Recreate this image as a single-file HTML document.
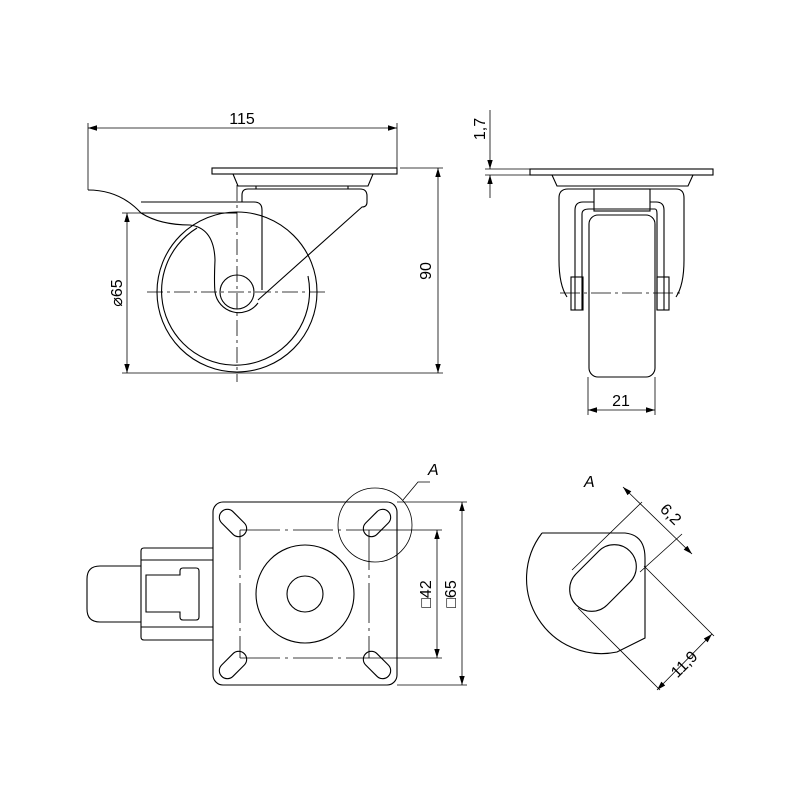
<!DOCTYPE html>
<html><head><style>body{margin:0;background:#fff}svg{display:block}text{font-family:"Liberation Sans",sans-serif;font-size:16px;fill:#000}</style></head><body>
<svg width="800" height="800" viewBox="0 0 800 800" fill="none" stroke="#000" stroke-width="1.1">
<defs><marker id="a" viewBox="0 0 10 10" refX="10" refY="5" markerWidth="9" markerHeight="9" orient="auto-start-reverse" markerUnits="userSpaceOnUse"><path d="M0,2L10,5L0,8z" fill="#000" stroke="none"/></marker></defs>
<g stroke-width="0.8">
<!-- side view dims -->
<line x1="88" y1="128" x2="397" y2="128" marker-start="url(#a)" marker-end="url(#a)"/>
<line x1="88" y1="123" x2="88" y2="190"/><line x1="397" y1="123" x2="397" y2="168"/>
<line x1="127" y1="213" x2="127" y2="373" marker-start="url(#a)" marker-end="url(#a)"/>
<line x1="122" y1="213" x2="237" y2="213"/><line x1="122" y1="373" x2="443" y2="373"/>
<line x1="438" y1="168" x2="438" y2="373" marker-start="url(#a)" marker-end="url(#a)"/>
<line x1="400" y1="168" x2="443" y2="168"/>
<line x1="147" y1="292" x2="327" y2="292" stroke-dasharray="16,4,3,4"/>
<line x1="237" y1="185" x2="237" y2="382" stroke-dasharray="16,4,3,4"/>
<!-- front dims -->
<line x1="485" y1="169" x2="530" y2="169"/><line x1="485" y1="175" x2="530" y2="175"/>
<line x1="490" y1="110" x2="490" y2="169" marker-end="url(#a)"/><line x1="490" y1="175" x2="490" y2="198" marker-start="url(#a)"/>
<line x1="588" y1="377" x2="588" y2="415"/><line x1="655" y1="377" x2="655" y2="415"/>
<line x1="588" y1="410" x2="655" y2="410" marker-start="url(#a)" marker-end="url(#a)"/>
<line x1="560" y1="293" x2="680" y2="293" stroke-dasharray="20,4,3,4"/>
<!-- top view dims -->
<line x1="240" y1="530" x2="369" y2="530" stroke-dasharray="40,5,3,5"/>
<line x1="240" y1="658" x2="369" y2="658" stroke-dasharray="40,5,3,5"/>
<line x1="240" y1="530" x2="240" y2="658" stroke-dasharray="40,5,3,5"/>
<line x1="369" y1="530" x2="369" y2="658" stroke-dasharray="40,5,3,5"/>
<line x1="369" y1="530" x2="442" y2="530"/><line x1="369" y1="658" x2="442" y2="658"/>
<line x1="437" y1="530" x2="437" y2="658" marker-start="url(#a)" marker-end="url(#a)"/>
<line x1="397" y1="502" x2="467" y2="502"/><line x1="397" y1="685" x2="467" y2="685"/>
<line x1="462" y1="502" x2="462" y2="685" marker-start="url(#a)" marker-end="url(#a)"/>
<circle cx="375" cy="525" r="37"/>
<polyline points="403,500 418,482 430,482"/>
<!-- detail dims -->
<line x1="623" y1="487" x2="692" y2="554" marker-start="url(#a)" marker-end="url(#a)"/>
<line x1="572" y1="570" x2="642" y2="502"/><line x1="640" y1="572" x2="682" y2="534"/>
<line x1="657" y1="690" x2="712" y2="634" marker-start="url(#a)" marker-end="url(#a)"/>
<line x1="578" y1="608" x2="660" y2="690"/><line x1="644" y1="566" x2="714" y2="636"/>
</g>
<!-- side view -->
<rect x="212" y="168" width="185" height="6"/>
<path d="M233,174L238,186H368L373,174"/>
<line x1="256" y1="186" x2="256" y2="189"/><line x1="348" y1="186" x2="348" y2="189"/>
<path d="M242,202V195Q242,189 248,189H360Q367,189 367,196V202Q367,207 362,207L258,300"/>
<path d="M141,202H254Q262,202 262,210V290"/>
<path d="M88,190Q120,190 141,213H237"/>
<path d="M141,213Q160,225 190,225Q214,228 215,260Q214,282 215,292A24,24 0 0 0 258,303"/>
<circle cx="237" cy="292" r="80"/>
<path d="M197,228A74,74 0 1 0 308,276"/>
<circle cx="237" cy="292" r="17"/>
<!-- front view -->
<rect x="530" y="169" width="183" height="6"/>
<path d="M552,175L557,186H688L693,175"/>
<path d="M567,297Q559,285 559,260V198Q559,189 568,189H676Q684,189 684,198V260Q684,285 676,297"/>
<rect x="594" y="189" width="56" height="22"/>
<path d="M575,310V210Q575,202 583,202H594M650,202H656Q664,202 664,210V310"/>
<path d="M582,310V214Q582,209 589,209H655Q657,209 657,214V310"/>
<rect x="589" y="215" width="66" height="162" rx="9"/>
<rect x="571" y="277" width="12" height="33"/><rect x="657" y="277" width="12" height="33"/>
<!-- top view -->
<rect x="213" y="502" width="184" height="183" rx="10"/>
<g transform="translate(233,523) rotate(45)"><rect x="-16" y="-8" width="32" height="16" rx="8"/></g>
<g transform="translate(377,523) rotate(-45)"><rect x="-16" y="-8" width="32" height="16" rx="8"/></g>
<g transform="translate(233,665) rotate(-45)"><rect x="-16" y="-8" width="32" height="16" rx="8"/></g>
<g transform="translate(377,665) rotate(45)"><rect x="-16" y="-8" width="32" height="16" rx="8"/></g>
<circle cx="305" cy="594" r="49"/><circle cx="305" cy="594" r="18"/>
<path d="M213,548H144Q141,548 141,551V637Q141,640 144,640H213"/>
<line x1="141" y1="560" x2="213" y2="560"/><line x1="141" y1="627" x2="213" y2="627"/>
<path d="M180,612V617Q180,620 183,620H196Q199,620 199,617V571Q199,568 196,568H183Q180,568 180,571V575H146V612Z"/>
<path d="M141,566H100Q87,566 87,579V609Q87,622 100,622H141"/>
<!-- detail A -->
<path d="M542,533H625Q645,535 645,558V638L617,652A75,75 0 0 1 542,533"/>
<g transform="translate(603,578) rotate(-45)"><rect x="-38" y="-22" width="76" height="44" rx="22"/></g>
<!-- texts -->
<g stroke="none">
<text x="242" y="124" text-anchor="middle">115</text>
<text transform="translate(122,293) rotate(-90)" text-anchor="middle">⌀65</text>
<text transform="translate(431,271) rotate(-90)" text-anchor="middle">90</text>
<text transform="translate(485,129) rotate(-90)" text-anchor="middle">1,7</text>
<text x="621" y="406" text-anchor="middle">21</text>
<text x="428" y="475" font-style="italic">A</text>
<text transform="translate(431,594) rotate(-90)" text-anchor="middle">□42</text>
<text transform="translate(456,594) rotate(-90)" text-anchor="middle">□65</text>
<text x="584" y="487" font-style="italic">A</text>
<text transform="translate(667,518) rotate(45)" text-anchor="middle">6,2</text>
<text transform="translate(688,668) rotate(-45)" text-anchor="middle">11,9</text>
</g>
</svg>
</body></html>
